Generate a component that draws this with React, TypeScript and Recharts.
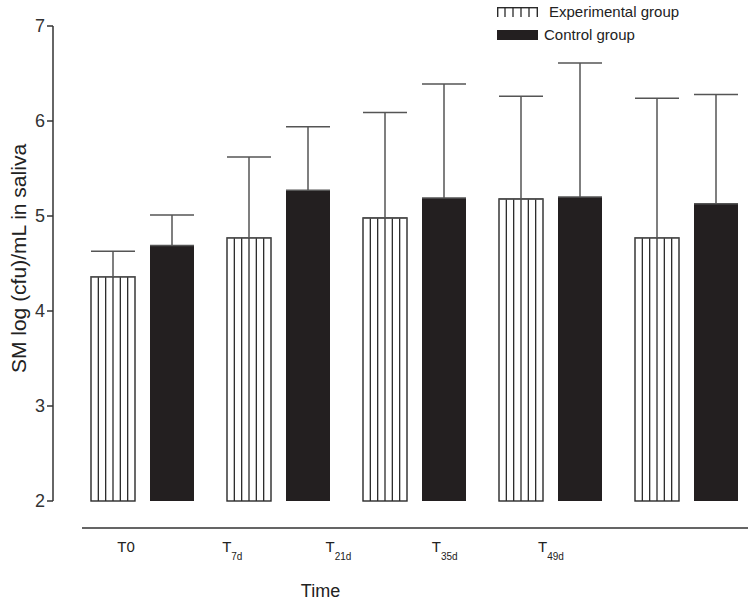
import React from 'react';
import { BarChart, Bar, XAxis, YAxis, ErrorBar, Legend, Label } from 'recharts';

const categories = ['T0', 'T7d', 'T21d', 'T35d', 'T49d'];
const tickMain = ['T0', 'T', 'T', 'T', 'T'];
const tickSub = ['', '7d', '21d', '35d', '49d'];
const experimental = [4.36, 4.77, 4.98, 5.18, 4.77];
const experimentalSD = [0.27, 0.85, 1.11, 1.08, 1.47];
const control = [4.69, 5.27, 5.19, 5.2, 5.13];
const controlSD = [0.32, 0.67, 1.2, 1.41, 1.15];
const yTicks = [2, 3, 4, 5, 6, 7];
const seriesNames = ['Experimental group', 'Control group'];

const data = categories.map((c, i) => ({
  time: c,
  exp: experimental[i],
  expErr: [0, experimentalSD[i]],
  ctrl: control[i],
  ctrlErr: [0, controlSD[i]],
}));

const FONT = '"Liberation Sans", Arial, sans-serif';

const StripedBar = (props: any) => {
  const { x, y, width, height } = props;
  if (width == null || height == null) return null;
  const lines = [1, 2, 3, 4, 5].map((i) => x + (width * i) / 6);
  return (
    <g>
      <rect x={x} y={y} width={width} height={height} fill="#fff" stroke="#2a2a2a" strokeWidth={1.4} />
      {lines.map((lx, i) => (
        <line key={i} x1={lx} x2={lx} y1={y} y2={y + height} stroke="#2a2a2a" strokeWidth={1.3} />
      ))}
    </g>
  );
};

const TimeTick = (props: any) => {
  const { x, y, payload } = props;
  const idx = categories.indexOf(payload.value);
  const sub = tickSub[idx];
  return (
    <text x={x} y={y + 16} textAnchor="middle" fontSize={15} fill="#222" fontFamily={FONT}>
      {tickMain[idx]}
      {sub ? (
        <tspan fontSize={10} dy={8}>
          {sub}
        </tspan>
      ) : null}
    </text>
  );
};

const LegendContent = () => (
  <div style={{ fontFamily: FONT, fontSize: 15, color: '#222', lineHeight: '23px' }}>
    <div style={{ display: 'flex', alignItems: 'center', height: 23 }}>
      <svg width={41} height={10} style={{ display: 'block' }}>
        <rect x={0.7} y={0.7} width={39.6} height={12} fill="#fff" stroke="#2a2a2a" strokeWidth={1.4} />
        {[1, 2, 3, 4].map((i) => (
          <line key={i} x1={(40 * i) / 5} x2={(40 * i) / 5} y1={0} y2={10} stroke="#2a2a2a" strokeWidth={1.3} />
        ))}
      </svg>
      <span style={{ marginLeft: 11 }}>{seriesNames[0]}</span>
    </div>
    <div style={{ display: 'flex', alignItems: 'center', height: 23 }}>
      <svg width={41} height={10} style={{ display: 'block' }}>
        <rect x={0} y={0} width={41} height={10} fill="#231f20" />
      </svg>
      <span style={{ marginLeft: 6 }}>{seriesNames[1]}</span>
    </div>
  </div>
);

export default function App() {
  return (
    <div style={{ position: 'absolute', left: 0, top: 0, width: 750, height: 602, overflow: 'hidden' }}>
      <BarChart
        width={754}
        height={602}
        data={data}
        margin={{ top: 26, right: 0, bottom: 0, left: 0 }}
        barSize={44}
        barGap={15}
      >
        <XAxis
          xAxisId="bars"
          dataKey="time"
          height={27}
          axisLine={false}
          tickLine={false}
          tick={false}
          padding={{ left: 21, right: 0 }}
        />
        <XAxis
          xAxisId="labels"
          dataKey="time"
          height={74}
          axisLine={{ stroke: '#333', strokeWidth: 1.5, strokeDasharray: '0 29 666 200' }}
          tickLine={false}
          tick={<TimeTick />}
          padding={{ left: 20, right: 150 }}
        >
          <Label value="Time" position="insideBottom" offset={5} dx={-83} fontSize={18} fill="#222" fontFamily={FONT} />
        </XAxis>
        <YAxis
          domain={[2, 7]}
          ticks={yTicks}
          width={53}
          axisLine={{ stroke: '#333', strokeWidth: 1.5 }}
          tickLine={{ stroke: '#333', strokeWidth: 1.5 }}
          tickSize={6}
          tick={{ fontSize: 18, fill: '#333', fontFamily: FONT }}
        >
          <Label
            value="SM log (cfu)/mL in saliva"
            position="center"
            angle={-90}
            dx={-8}
            dy={-5}
            fontSize={21}
            fill="#222"
            fontFamily={FONT}
          />
        </YAxis>
        <Legend
          layout="horizontal"
          verticalAlign="middle"
          align="center"
          wrapperStyle={{ top: 0, left: 497, width: 'auto' }}
          content={<LegendContent />}
        />
        <Bar xAxisId="bars" dataKey="exp" name={seriesNames[0]} fill="#fff" shape={<StripedBar />} isAnimationActive={false}>
          <ErrorBar dataKey="expErr" width={22} stroke="#555" strokeWidth={1.5} direction="y" />
        </Bar>
        <Bar xAxisId="bars" dataKey="ctrl" name={seriesNames[1]} fill="#231f20" isAnimationActive={false}>
          <ErrorBar dataKey="ctrlErr" width={22} stroke="#555" strokeWidth={1.5} direction="y" />
        </Bar>
      </BarChart>
    </div>
  );
}
